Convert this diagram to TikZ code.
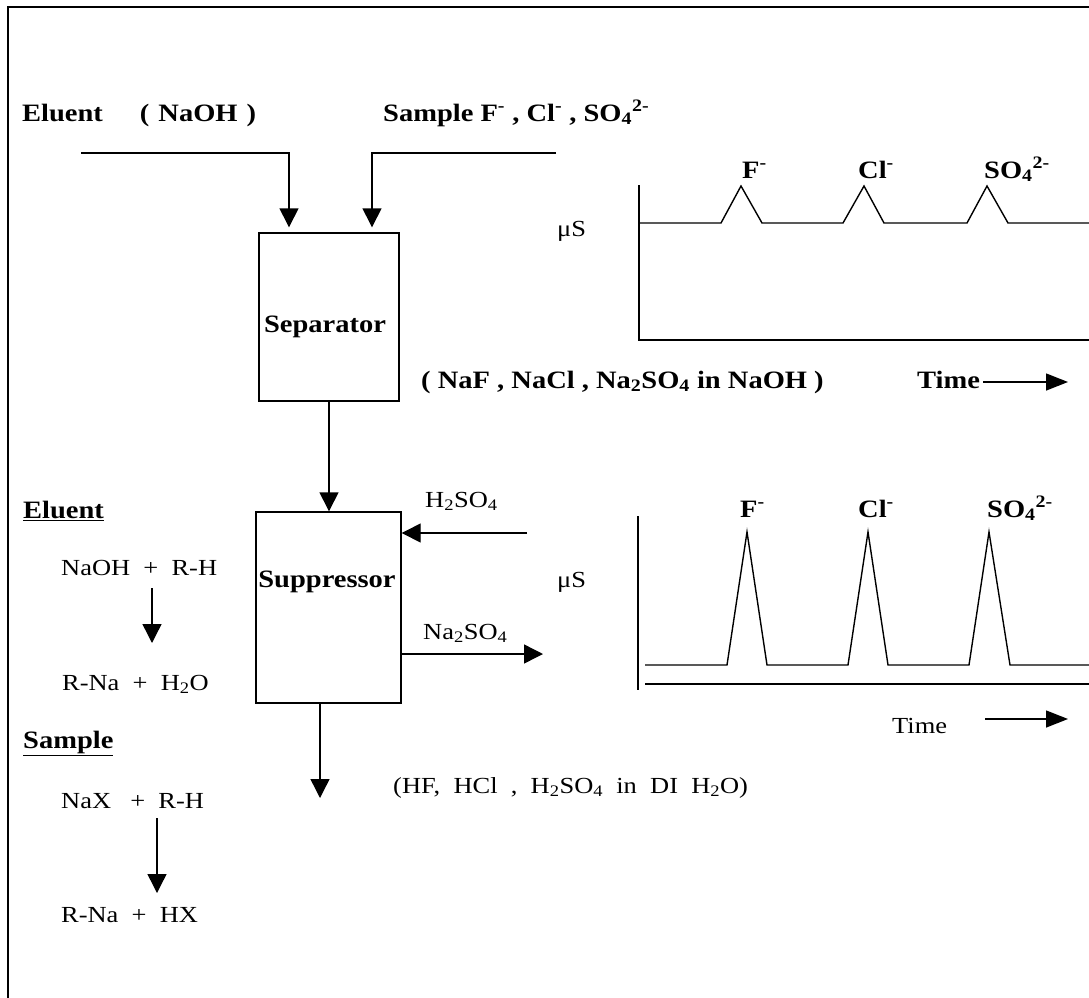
\documentclass[tikz,border=0pt]{standalone}
\usepackage{fontspec}
\setmainfont{Liberation Serif}[FakeStretch=1.15, WordSpace=2]
\newfontfamily\boldfam{Liberation Serif}[FakeStretch=1.14]
\usetikzlibrary{arrows.meta}
\tikzset{
  txt/.style={inner sep=0pt, font=\fontsize{23}{27}\selectfont},
  btxt/.style={inner sep=0pt, font=\boldfam\fontsize{25}{29}\selectfont\bfseries},
  ln/.style={line width=1.4pt},
  arr/.style={ln, -{Triangle[length=19pt,width=19pt]}},
  sarr/.style={ln, -{Triangle[length=22pt,width=17pt]}},
  unitbox/.style={draw, ln, inner sep=0pt},
  trace/.style={line width=1.4pt, line join=miter}
}
\begin{document}
\begin{tikzpicture}[x=1pt,y=-1pt]
\useasboundingbox (0,0) rectangle (1089,998);
% frame
\draw[line width=1.8pt] (1089,7) -- (8,7) -- (8,998);

% top labels
\node[btxt, anchor=base west] (elab) at (22,121) {Eluent\hspace{37pt}(\hspace{9pt}NaOH\hspace{9pt})};
\node[btxt, anchor=base west] (slab) at (383,121) {Sample F\textsuperscript{-} , Cl\textsuperscript{-} , SO\textsubscript{4}\textsuperscript{2-}};

% separator
\node[unitbox, minimum width=140pt, minimum height=168pt] (sep) at (329,317) {};
\node[btxt, anchor=base] (septxt) at (325,332) {Separator};
% suppressor
\node[unitbox, minimum width=145pt, minimum height=191pt] (sup) at (328.5,607.5) {};
\node[btxt, anchor=base] (suptxt) at (327,587) {Suppressor};

% inlet lines
\coordinate (e0) at (81,153);
\coordinate (e1) at (289,153);
\coordinate (s0) at (556,153);
\coordinate (s1) at (372,153);
\draw[arr, shorten >=5pt] (e0) -- (e1) -- (e1 |- sep.north);
\draw[arr, shorten >=5pt] (s0) -- (s1) -- (s1 |- sep.north);
\draw[arr] (sep.south) -- (sep.south |- sup.north);

% suppressor side streams
\coordinate (h0) at (527,533);
\draw[arr] (h0) -- (h0 -| sup.east);
\node[txt, anchor=base west] (hlab) at (425,507) {H\textsubscript{2}SO\textsubscript{4}};
\coordinate (n1) at (543,654);
\draw[arr] (n1 -| sup.east) -- (n1);
\node[txt, anchor=base west] (nlab) at (423,639) {Na\textsubscript{2}SO\textsubscript{4}};
\coordinate (o1) at (320,798);
\draw[arr] (o1 |- sup.south) -- (o1);
\node[txt, anchor=base west] (olab) at (393,793) {(HF, HCl , H\textsubscript{2}SO\textsubscript{4} in DI H\textsubscript{2}O)};

% intermediate label
\node[btxt, anchor=base west] (mlab) at (421,388) {( NaF , NaCl , Na\textsubscript{2}SO\textsubscript{4} in NaOH )};

% left reactions
\node[btxt, anchor=base west] (el) at (23,518) {\underline{Eluent}};
\node[txt, anchor=base west] (r1) at (61,575) {NaOH + R-H};
\node[txt, anchor=base west] (r2) at (62,690) {R-Na + H\textsubscript{2}O};
\coordinate (ra) at (152,588);
\coordinate (rb) at (152,643);
\draw[arr] (ra) -- (rb);
\node[btxt, anchor=base west] (sl) at (23,748) {\underline{Sample}};
\node[txt, anchor=base west] (r3) at (61,808) {NaX\hspace{6pt} + R-H};
\node[txt, anchor=base west] (r4) at (61,922) {R-Na + HX};
\coordinate (rc) at (157,818);
\coordinate (rd) at (157,893);
\draw[arr] (rc) -- (rd);

% chromatogram 1
\node[txt, anchor=base west] (mu1) at (557,236) {μS};
\draw[ln] (639,185) -- (639,340) -- (1089,340);
\draw[trace] (639,223) -- (721,223) -- (741,186) -- (762,223) -- (843,223) -- (864,186) -- (884,223) -- (967,223) -- (987,186) -- (1008,223) -- (1089,223);
\node[btxt, anchor=base west] (f1) at (742,178) {F\textsuperscript{-}};
\node[btxt, anchor=base west] (c1) at (858,178) {Cl\textsuperscript{-}};
\node[btxt, anchor=base west] (so1) at (984,178) {SO\textsubscript{4}\textsuperscript{2-}};
\node[btxt, anchor=base west] (t1) at (917,388) {Time};
\coordinate (t1a) at (983,382);
\coordinate (t1b) at (1068,382);
\draw[sarr] (t1a) -- (t1b);

% chromatogram 2
\node[txt, anchor=base west] (mu2) at (557,587) {μS};
\draw[ln] (638,516) -- (638,690);
\draw[ln] (645,684) -- (1089,684);
\draw[trace] (645,665) -- (727,665) -- (747,532) -- (767,665) -- (848,665) -- (868,532) -- (888,665) -- (969,665) -- (989,532) -- (1010,665) -- (1089,665);
\node[btxt, anchor=base west] (f2) at (740,517) {F\textsuperscript{-}};
\node[btxt, anchor=base west] (c2) at (858,517) {Cl\textsuperscript{-}};
\node[btxt, anchor=base west] (so2) at (987,517) {SO\textsubscript{4}\textsuperscript{2-}};
\node[txt, anchor=base west] (t2) at (892,733) {Time};
\coordinate (t2a) at (985,719);
\coordinate (t2b) at (1068,719);
\draw[sarr] (t2a) -- (t2b);
\end{tikzpicture}
\end{document}
